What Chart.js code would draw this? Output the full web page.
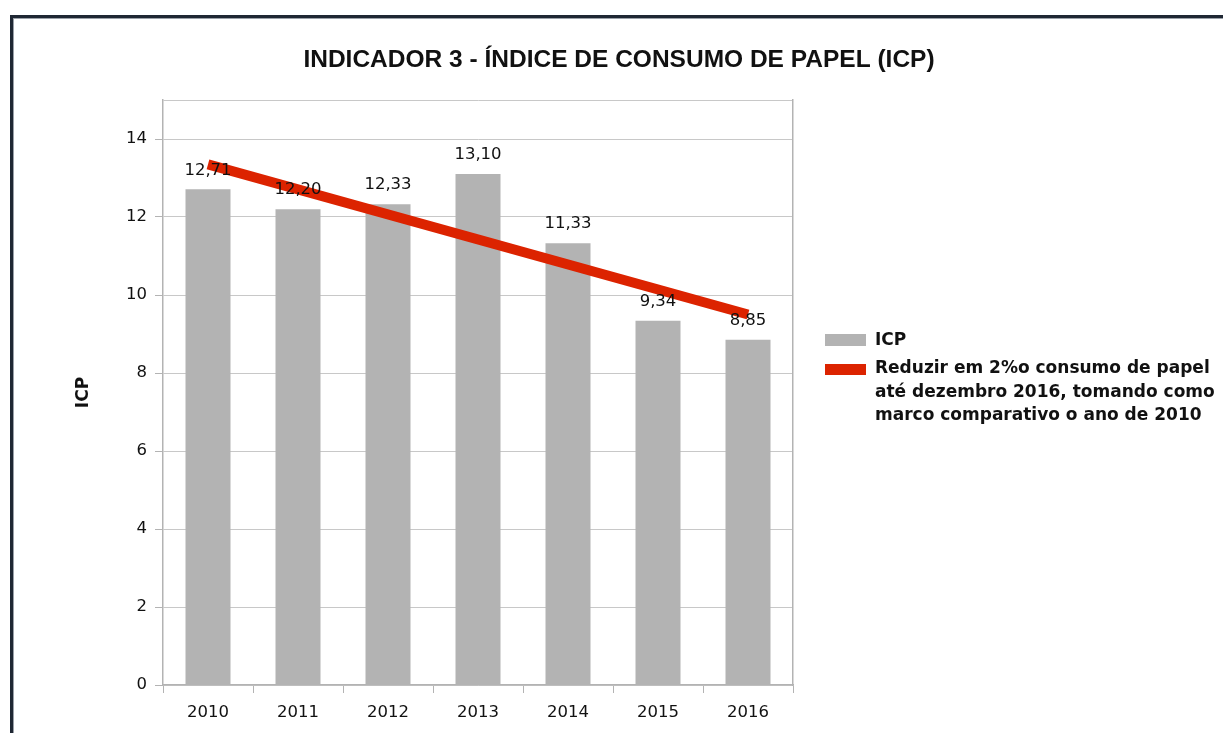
<!DOCTYPE html>
<html>
<head>
<meta charset="utf-8">
<script src="https://cdn.jsdelivr.net/npm/chart.js@4/dist/chart.umd.min.js"></script>
<style>
  html, body { margin: 0; padding: 0; background: #fff; overflow: hidden; width: 1223px; height: 733px; }
  #frame { position: absolute; left: 10px; top: 15px; width: 1400px; height: 900px;
           border-left: 3px solid #1f2733; border-top: 3px solid #1f2733;
           box-shadow: inset 1px 1px 0 #9aa0a8; }
  #c { position: absolute; left: 0; top: 0; }
  .sw { position: absolute; left: 825px; width: 41px; }
  .lt { position: absolute; left: 875px; font-family: "DejaVu Sans", sans-serif; font-weight: bold;
        font-size: 17px; line-height: 23.5px; color: #111; white-space: nowrap; }
</style>
</head>
<body>
<div id="frame"></div>
<canvas id="c" width="1223" height="733"></canvas>
<div class="sw" style="top:334px;height:12px;background:#b3b3b3"></div>
<div class="lt" id="leg1" style="top:328px"></div>
<div class="sw" style="top:364px;height:11px;background:#dc2300"></div>
<div class="lt" id="leg2" style="top:356px"></div>
<script>
const chartTitle = 'INDICADOR 3 - ÍNDICE DE CONSUMO DE PAPEL (ICP)';
const categories = ['2010', '2011', '2012', '2013', '2014', '2015', '2016'];
const icpValues = [12.71, 12.20, 12.33, 13.10, 11.33, 9.34, 8.85];
const metaValues = [13.35, null, null, null, null, null, 9.5];
const seriesNames = ['ICP', 'Reduzir em 2%o consumo de papel até dezembro 2016, tomando como marco comparativo o ano de 2010'];
const legendLines = ['Reduzir em 2%o consumo de papel', 'até dezembro 2016, tomando como', 'marco comparativo o ano de 2010'];
const yAxisTitle = 'ICP';
const yMin = 0, yMax = 15, yStep = 2;

document.getElementById('leg1').textContent = seriesNames[0];
const leg2 = document.getElementById('leg2');
legendLines.forEach((t, i) => { if (i) leg2.appendChild(document.createElement('br')); leg2.appendChild(document.createTextNode(t)); });

const fmt = v => v.toFixed(2).replace('.', ',');

const valueLabels = {
  id: 'valueLabels',
  afterDatasetsDraw(chart) {
    const ctx = chart.ctx;
    const meta = chart.getDatasetMeta(0);
    ctx.save();
    ctx.font = '16.5px "DejaVu Sans"';
    ctx.fillStyle = '#111';
    ctx.textAlign = 'center';
    ctx.textBaseline = 'middle';
    meta.data.forEach((el, i) => {
      ctx.fillText(fmt(icpValues[i]), el.x, el.y - 19);
    });
    ctx.restore();
  }
};

new Chart(document.getElementById('c'), {
  data: {
    labels: categories,
    datasets: [
      { type: 'bar', label: seriesNames[0], data: icpValues, backgroundColor: '#b3b3b3',
        barPercentage: 0.5, categoryPercentage: 1.0, order: 2 },
      { type: 'line', label: seriesNames[1], data: metaValues, borderColor: '#dc2300',
        borderWidth: 10, pointRadius: 0, spanGaps: true, fill: false, tension: 0, order: 1,
        borderCapStyle: 'butt' }
    ]
  },
  options: {
    responsive: false,
    animation: false,
    layout: { padding: { top: 46, left: 15, right: 0, bottom: 0 } },
    plugins: {
      legend: { display: false },
      tooltip: { enabled: false },
      title: { display: true, text: chartTitle, color: '#111',
               font: { family: '"Liberation Sans", Arial, sans-serif', size: 24.5, weight: 'bold' },
               padding: { top: 0, bottom: 24.6 } }
    },
    scales: {
      x: {
        grid: { drawOnChartArea: false, offset: true, tickLength: 8, color: '#b3b3b3', lineWidth: 1 },
        border: { color: '#b3b3b3', width: 1.5 },
        ticks: { color: '#111', padding: 10, font: { family: '"DejaVu Sans"', size: 16.5 } },
        afterFit(s) { s.height = 48; }
      },
      y: {
        min: yMin, max: yMax,
        ticks: { stepSize: yStep, color: '#111', padding: 8,
                 font: { family: '"DejaVu Sans"', size: 16.5 },
                 callback: v => (v === yMax ? '' : v) },
        grid: { color: '#c8c8c8', lineWidth: 1, tickLength: 8,
                tickColor: c => (c.tick && c.tick.value === yMax ? 'rgba(0,0,0,0)' : '#b3b3b3') },
        border: { color: '#b3b3b3', width: 1.5 },
        title: { display: true, text: yAxisTitle, color: '#111',
                 font: { family: '"DejaVu Sans"', size: 17, weight: 'bold' },
                 padding: { top: 58, bottom: 0 } },
        afterFit(s) { s.width = 148; }
      },
      y2: {
        position: 'right', min: yMin, max: yMax,
        ticks: { display: false },
        grid: { drawOnChartArea: false, drawTicks: false },
        border: { color: '#b3b3b3', width: 1.5 },
        afterFit(s) { s.width = 430; }
      }
    }
  },
  plugins: [valueLabels]
});
</script>
</body>
</html>
